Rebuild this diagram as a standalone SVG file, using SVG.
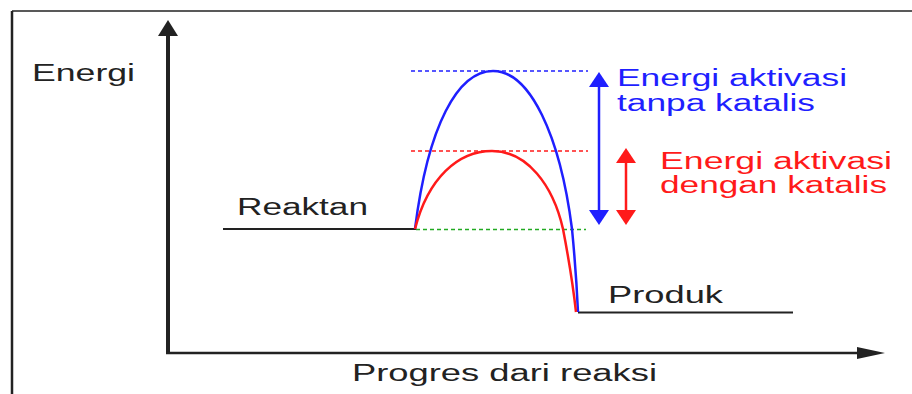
<svg xmlns="http://www.w3.org/2000/svg" width="912" height="394" viewBox="0 0 912 394">
  <style>
    .lbl { font-family: "Liberation Sans", Arial, sans-serif; font-size: 23px; }
    .dark { fill: #222222; }
    .blue { fill: #1f1fff; }
    .red { fill: #ff1a1a; }
    .axis { stroke: #222222; fill: none; }
    .level { stroke: #222222; stroke-width: 2; fill: none; }
    .dash { stroke-width: 1.5; stroke-dasharray: 4 3; fill: none; }
    .curve { stroke-width: 2.5; fill: none; stroke-linejoin: round; }
  </style>
  <defs>
    <marker id="headY" markerUnits="userSpaceOnUse" viewBox="0 -10 16 20" refX="0" refY="0" markerWidth="16" markerHeight="20" orient="auto">
      <path d="M0,-10 L16,0 L0,10 Z" fill="#222222"/>
    </marker>
    <marker id="headX" markerUnits="userSpaceOnUse" viewBox="0 -6 28 12" refX="0" refY="0" markerWidth="28" markerHeight="12" orient="auto">
      <path d="M0,-6 L28,0 L0,6 Z" fill="#222222"/>
    </marker>
    <marker id="headBlue" markerUnits="userSpaceOnUse" viewBox="0 -10 15 20" refX="0" refY="0" markerWidth="15" markerHeight="20" orient="auto-start-reverse">
      <path d="M0,-10 L15,0 L0,10 Z" fill="#1f1fff"/>
    </marker>
    <marker id="headRed" markerUnits="userSpaceOnUse" viewBox="0 -10 15 20" refX="0" refY="0" markerWidth="15" markerHeight="20" orient="auto-start-reverse">
      <path d="M0,-10 L15,0 L0,10 Z" fill="#ff1a1a"/>
    </marker>
  </defs>

  <rect x="0" y="0" width="912" height="394" fill="#ffffff"/>

  <g id="frame">
    <line x1="12" y1="11" x2="912" y2="11" stroke="#222222" stroke-width="1.5"/>
    <line x1="12" y1="11" x2="12" y2="394" stroke="#222222" stroke-width="2.5"/>
  </g>

  <g id="axes">
    <line class="axis" x1="168" y1="354" x2="168" y2="36" stroke-width="4" marker-end="url(#headY)"/>
    <line class="axis" x1="166" y1="353" x2="857" y2="353" stroke-width="2.5" marker-end="url(#headX)"/>
  </g>

  <g id="levels">
    <line class="level" x1="223" y1="229" x2="416" y2="229"/>
    <line class="level" x1="578" y1="312.5" x2="793" y2="312.5"/>
    <line class="dash" stroke="#1f1fff" x1="411" y1="71" x2="588" y2="71"/>
    <line class="dash" stroke="#ff1a1a" x1="411" y1="151" x2="588" y2="151"/>
    <line class="dash" stroke="#22aa22" x1="416" y1="229.5" x2="586" y2="229.5"/>
  </g>

  <g id="curves">
    <path class="curve" stroke="#1f1fff" d="M415,229 C428,125 458,71 493,71 C530,71 560,135 572,229 C575,260 577,290 578,312"/>
    <path class="curve" stroke="#ff1a1a" d="M415,229 C428,178 458,151 492,151 C527,151 553,185 563,229 C568,255 573,285 576,312"/>
  </g>

  <g id="arrow-blue">
    <line x1="599" y1="87" x2="599" y2="210" stroke="#1f1fff" stroke-width="2.5" marker-start="url(#headBlue)" marker-end="url(#headBlue)"/>
  </g>
  <g id="arrow-red">
    <line x1="626" y1="163" x2="626" y2="210" stroke="#ff1a1a" stroke-width="2.5" marker-start="url(#headRed)" marker-end="url(#headRed)"/>
  </g>

  <g id="label-energi">
    <text class="lbl dark" x="32" y="81" textLength="103" lengthAdjust="spacingAndGlyphs">Energi</text>
  </g>
  <g id="label-reaktan">
    <text class="lbl dark" x="237" y="215" textLength="131" lengthAdjust="spacingAndGlyphs">Reaktan</text>
  </g>
  <g id="label-produk">
    <text class="lbl dark" x="608" y="303" textLength="115" lengthAdjust="spacingAndGlyphs">Produk</text>
  </g>
  <g id="label-progres">
    <text class="lbl dark" x="352" y="381" textLength="305" lengthAdjust="spacingAndGlyphs">Progres dari reaksi</text>
  </g>
  <g id="label-tanpa">
    <text class="lbl blue" x="617" y="86" textLength="230" lengthAdjust="spacingAndGlyphs">Energi aktivasi</text>
    <text class="lbl blue" x="617" y="111" textLength="198" lengthAdjust="spacingAndGlyphs">tanpa katalis</text>
  </g>
  <g id="label-dengan">
    <text class="lbl red" x="660" y="169" textLength="232" lengthAdjust="spacingAndGlyphs">Energi aktivasi</text>
    <text class="lbl red" x="660" y="193" textLength="227" lengthAdjust="spacingAndGlyphs">dengan katalis</text>
  </g>
</svg>
